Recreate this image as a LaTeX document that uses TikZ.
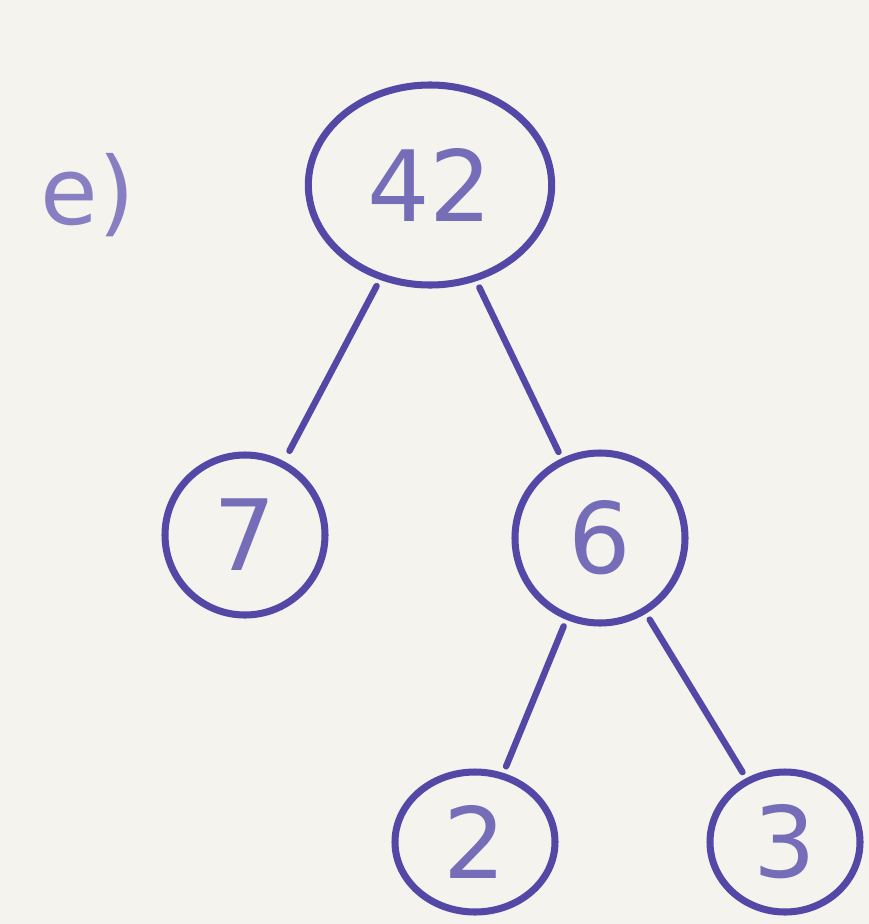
\documentclass[tikz,border=0pt]{standalone}
\usepackage{fontspec}
\setmainfont{DejaVu Sans}
\usetikzlibrary{shapes.geometric}
\definecolor{ink}{RGB}{84,72,166}
\definecolor{paper}{RGB}{244,243,238}

\begin{document}
\begin{tikzpicture}[x=0.03cm,y=-0.03cm,inner sep=0pt,
  knot/.style={ellipse,draw=ink,line width=6pt,text=ink!80,font=\fontsize{84}{84}\selectfont},
  edge/.style={draw=ink,line width=5.5pt,line cap=round}]
  \fill[paper](0,0)rectangle(869,924);
  \useasboundingbox(0,0)rectangle(869,924);
  \node[text=ink!70,font=\fontsize{80}{80}\selectfont](lab)at(88,195){e)};
  % tree
  \node[knot,minimum width=7.3cm,minimum height=6.0cm](n42)at(430,185){42};
  \node[knot,minimum width=4.8cm,minimum height=4.8cm](n7)at(245,535){7};
  \node[knot,minimum width=5.1cm,minimum height=5.1cm](n6)at(600,538){6};
  \node[knot,minimum width=4.8cm,minimum height=4.2cm](n2)at(475,842){2};
  \node[knot,minimum width=4.5cm,minimum height=4.2cm](n3)at(785,842){3};
  \draw[edge,shorten >=10pt,shorten <=6pt](n42)--(n7);
  \draw[edge,shorten >=6pt,shorten <=6pt](n42)--(n6);
  \draw[edge,shorten >=6pt,shorten <=6pt](n6)--(n2);
  \draw[edge,shorten >=6pt,shorten <=6pt](n6)--(n3);
\end{tikzpicture}
\end{document}
